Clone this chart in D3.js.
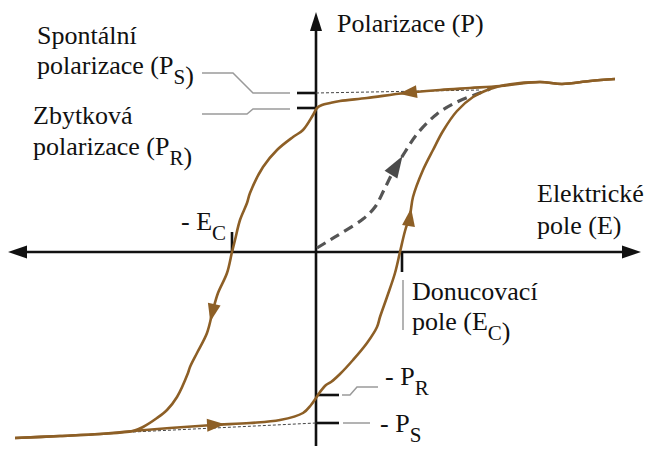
<!DOCTYPE html>
<html><head><meta charset="utf-8">
<script src="https://cdn.jsdelivr.net/npm/d3@7"></script>
<style>
body{margin:0;background:#fff}
svg{display:block}
</style>
</head><body>
<svg id="c" width="648" height="451" font-family="'Liberation Serif', 'Times New Roman', 'DejaVu Serif', serif"></svg>
<script>
// ---- data (E = electric field, P = polarization) ----
const descendingBranch = [
  [7.475,4.325],[6.85,4.275],[6.15,4.2],[5.6,4.25],[4.6,4.15],[3.85,4.1],[3.1,4.05],
  [2.225,3.975],[1.275,3.85],[0.6,3.775],[0.35,3.725],[0.15,3.675],[0.025,3.6],
  [-0.075,3.425],[-0.325,3.05],[-0.575,2.875],[-0.975,2.55],[-1.325,2.125],
  [-1.65,1.475],[-1.725,1.225],[-1.9,0.8],[-2.025,0.3],[-2.1,0],[-2.225,-0.525],
  [-2.45,-1.025],[-2.575,-1.45],[-2.725,-2.025],[-2.975,-2.525],[-3.15,-2.875],
  [-3.2,-3.025],[-3.475,-3.625],[-3.725,-3.95],[-3.975,-4.15],[-4.325,-4.375],
  [-4.575,-4.475],[-5.4,-4.55],[-6.4,-4.6],[-7.525,-4.65]
];
const ascendingBranch = [
  [-7.525,-4.65],[-6.4,-4.6],[-5.4,-4.55],[-4.575,-4.475],[-3.65,-4.4],[-2.575,-4.325],
  [-1.65,-4.275],[-0.9,-4.2],[-0.325,-4.025],[-0.125,-3.825],[0,-3.65],[0.1,-3.5],
  [0.25,-3.325],[0.375,-3.25],[0.6,-3.05],[0.925,-2.7],[1.275,-2.275],[1.525,-1.875],
  [1.6,-1.625],[1.775,-1.125],[1.975,-0.525],[2.1,0],[2.225,0.525],[2.35,0.925],
  [2.425,1.375],[2.675,2.05],[2.925,2.55],[3.175,3.025],[3.525,3.525],[3.925,3.875],
  [4.35,4.075],[4.725,4.175],[5.6,4.25],[6.15,4.2],[6.85,4.275],[7.475,4.325]
];
const virginCurve = [
  [0.025,0.1],[0.35,0.3],[0.675,0.5],[1.175,0.825],[1.475,1.125],[1.7,1.55],
  [1.925,2.0],[2.225,2.5],[2.525,2.95],[3.025,3.45],[3.525,3.75],[4.025,3.95],[4.35,4.075]
];
const Ps = 3.975, Pr = 3.6, negPr = -3.575, negPs = -4.275;
const Ec = 2.15, negEc = -2.1;
const saturationTop = [[0,3.975],[4.1,4.05]];
const saturationBottom = [[-4.575,-4.5],[0,-4.275]];
// arrow tips on curves: which curve, tip point
const arrowTips = [
  {curve:"desc", tip:[2.075,3.975]},
  {curve:"desc", tip:[-2.625,-1.75]},
  {curve:"asc",  tip:[-2.275,-4.31]},
  {curve:"asc",  tip:[2.375,1.1]},
  {curve:"virgin", tip:[2.125,2.425]}
];
const axisExtent = {E:[-7.7,8.125], P:[-4.85,6.0]};

// ---- scales ----
const x = d3.scaleLinear().domain([-8,8]).range([316-320,316+320]);
const y = d3.scaleLinear().domain([-6,6]).range([252+240,252-240]);

const svg = d3.select("#c");
const brown = "#8d5f26", axisCol = "#111", leaderCol = "#9a9a9a";

// ---- axes ----
const ax = svg.append("g");
const arrLen = 19, arrHalf = 6.5;
ax.append("line").attr("x1",x(axisExtent.E[0])+arrLen-2).attr("x2",x(axisExtent.E[1])-arrLen+2)
  .attr("y1",y(0)).attr("y2",y(0)).attr("stroke",axisCol).attr("stroke-width",2.6);
ax.append("line").attr("x1",x(0)).attr("x2",x(0))
  .attr("y1",y(axisExtent.P[0])).attr("y2",y(axisExtent.P[1])+arrLen-2)
  .attr("stroke",axisCol).attr("stroke-width",2.6);
function tri(tx,ty,dx,dy,L,W){ // tip, unit direction
  const bx=tx-dx*L, by=ty-dy*L, nx=-dy, ny=dx;
  return [[tx,ty],[bx+nx*W,by+ny*W],[bx-nx*W,by-ny*W]].map(p=>p.join(",")).join(" ");
}
ax.append("polygon").attr("points",tri(x(axisExtent.E[1]),y(0),1,0,arrLen,arrHalf)).attr("fill",axisCol);
ax.append("polygon").attr("points",tri(x(axisExtent.E[0]),y(0),-1,0,arrLen,arrHalf)).attr("fill",axisCol);
ax.append("polygon").attr("points",tri(x(0),y(axisExtent.P[1]),0,-1,arrLen,arrHalf-0.5)).attr("fill",axisCol);

// ---- ticks ----
const tk = svg.append("g").attr("stroke",axisCol).attr("stroke-width",2.6);
[Ps,Pr].forEach(p=>tk.append("line").attr("x1",x(0)-19).attr("x2",x(0)).attr("y1",y(p)).attr("y2",y(p)));
[negPr,negPs].forEach(p=>tk.append("line").attr("x1",x(0)).attr("x2",x(0)+23).attr("y1",y(p)).attr("y2",y(p)));
tk.append("line").attr("x1",x(negEc)).attr("x2",x(negEc)).attr("y1",y(0)-20).attr("y2",y(0));
tk.append("line").attr("x1",x(Ec)).attr("x2",x(Ec)).attr("y1",y(0)).attr("y2",y(0)+20);

// ---- thin saturation dashed lines ----
const line = d3.line().x(d=>x(d[0])).y(d=>y(d[1]));
[saturationTop,saturationBottom].forEach(s=>svg.append("path").attr("d",line(s))
  .attr("fill","none").attr("stroke","#444").attr("stroke-width",1).attr("stroke-dasharray","3,2"));

// ---- leaders ----
const lg = svg.append("g").attr("fill","none").attr("stroke",leaderCol).attr("stroke-width",1.5);
const yPs=y(Ps), yPr=y(Pr), yNPr=y(negPr), yNPs=y(negPs);
lg.append("polyline").attr("points",[[202,yPs-20],[233,yPs-20],[253,yPs],[290,yPs]].join(" "));
lg.append("polyline").attr("points",[[202,yPr+6],[247,yPr+6],[253,yPr+1],[290,yPr+1]].join(" "));
lg.append("polyline").attr("points",[[342,yNPr],[350,yNPr],[357,yNPr-8],[378,yNPr-8]].join(" "));
lg.append("polyline").attr("points",[[343,yNPs],[370,yNPs]].join(" "));
lg.append("line").attr("x1",x(Ec)+1).attr("x2",x(Ec)+1).attr("y1",y(0)+28).attr("y2",y(0)+78);

// ---- curves ----
const smooth = d3.line().x(d=>x(d[0])).y(d=>y(d[1])).curve(d3.curveCatmullRom.alpha(0.5));
const paths = {};
paths.virgin = svg.append("path").attr("d",smooth(virginCurve)).attr("fill","none")
  .attr("stroke","#555").attr("stroke-width",3.2).attr("stroke-dasharray","10,6");
paths.desc = svg.append("path").attr("d",smooth(descendingBranch)).attr("fill","none")
  .attr("stroke",brown).attr("stroke-width",2.6).attr("stroke-linejoin","round");
paths.asc = svg.append("path").attr("d",smooth(ascendingBranch)).attr("fill","none")
  .attr("stroke",brown).attr("stroke-width",2.6).attr("stroke-linejoin","round");

// ---- arrows along curves ----
arrowTips.forEach(a=>{
  const node = paths[a.curve].node(), total=node.getTotalLength();
  const tx=x(a.tip[0]), ty=y(a.tip[1]);
  let best=0, bd=1e9;
  for(let s=0;s<=total;s+=0.5){const p=node.getPointAtLength(s);const d=(p.x-tx)**2+(p.y-ty)**2;if(d<bd){bd=d;best=s;}}
  const p0=node.getPointAtLength(Math.max(0,best-6)), p1=node.getPointAtLength(Math.min(total,best+2));
  let dx=p1.x-p0.x, dy=p1.y-p0.y; const n=Math.hypot(dx,dy); dx/=n; dy/=n;
  const pt=node.getPointAtLength(best);
  const isV = a.curve==="virgin";
  svg.append("polygon").attr("points",tri(pt.x,pt.y,dx,dy,isV?22:18,isV?7.5:6.5))
    .attr("fill",isV?"#4a4a4a":brown);
});

// ---- labels ----
function label(xp,yp,parts){
  const t = svg.append("text").attr("x",xp).attr("y",yp)
    .attr("font-family","'Liberation Serif', 'Times New Roman', serif")
    .attr("font-size",26).attr("fill","#111");
  parts.forEach(pp=>{
    if(typeof pp==="string") t.append("tspan").text(pp);
    else { t.append("tspan").attr("dy",10).attr("font-size",21).text(pp.sub);
           t.append("tspan").attr("dy",-10).text(""); }
  });
  return t;
}
label(337,32,["Polarizace (P)"]);
label(37,44,["Spontální"]);
label(37,74,["polarizace (P",{sub:"S"},")"]);
label(33,124,["Zbytková"]);
label(33,155,["polarizace (P",{sub:"R"},")"]);
label(537,202,["Elektrické"]);
label(537,234,["pole (E)"]);
label(181,230,["- E",{sub:"C"}]);
label(412,300,["Donucovací"]);
label(412,330,["pole (E",{sub:"C"},")"]);
label(385,385,["- P",{sub:"R"}]);
label(380,432,["- P",{sub:"S"}]);
</script>
</body></html>
